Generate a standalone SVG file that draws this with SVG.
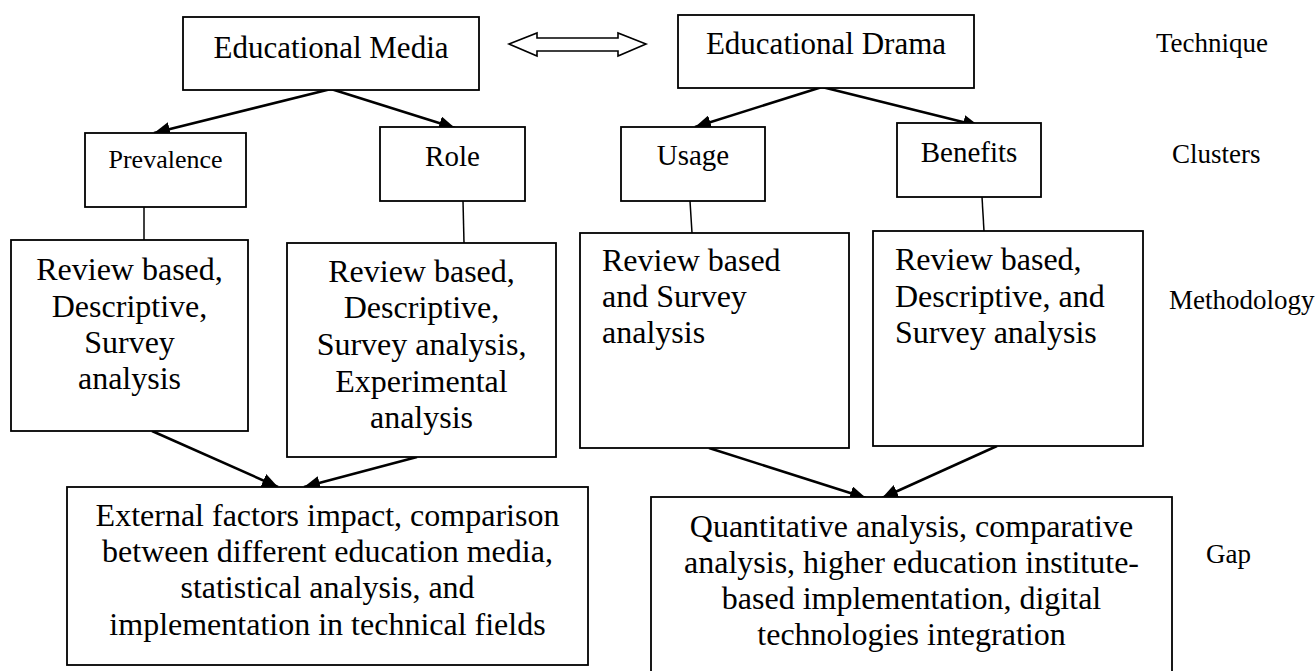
<svg xmlns="http://www.w3.org/2000/svg" width="1315" height="671" viewBox="0 0 1315 671">
<style>
.box{fill:#fff;stroke:#000;stroke-width:1.8}
.t{font-family:"Liberation Serif","Times New Roman",serif;fill:#000}
.c{text-anchor:middle}
.m{font-size:32px}
.h{font-size:31px}
.k{font-size:29px}
.lab{font-size:27px}
.con{stroke:#000;stroke-width:2.5;fill:none}
.thin{stroke:#000;stroke-width:1.5;fill:none}
</style>
<defs>
<marker id="ah" markerUnits="userSpaceOnUse" markerWidth="18" markerHeight="14" refX="16" refY="7" orient="auto">
<path d="M0,0 L16,7 L0,14 Z" fill="#000"/>
</marker>
</defs>
<rect width="1315" height="671" fill="#fff"/>
<g id="connectors">
<line class="con" x1="331" y1="89" x2="154" y2="133" marker-end="url(#ah)"/>
<line class="con" x1="331" y1="89" x2="455" y2="128" marker-end="url(#ah)"/>
<line class="con" x1="822" y1="87" x2="695" y2="127" marker-end="url(#ah)"/>
<line class="con" x1="822" y1="87" x2="979" y2="126" marker-end="url(#ah)"/>
<line class="thin" x1="144" y1="207" x2="144" y2="240"/>
<line class="thin" x1="463" y1="201" x2="464" y2="243"/>
<line class="thin" x1="690" y1="201" x2="692" y2="233"/>
<line class="thin" x1="982" y1="197" x2="984" y2="231"/>
<line class="con" x1="152" y1="431" x2="278" y2="487" marker-end="url(#ah)"/>
<line class="con" x1="417" y1="457" x2="304" y2="487" marker-end="url(#ah)"/>
<line class="con" x1="709" y1="448" x2="866" y2="498" marker-end="url(#ah)"/>
<line class="con" x1="997" y1="446" x2="882" y2="498" marker-end="url(#ah)"/>
<path d="M509,44 L537,33 L537,38 L618,38 L618,33 L646,44 L618,56 L618,51 L537,51 L537,56 Z" fill="#fff" stroke="#000" stroke-width="1.6" stroke-linejoin="miter"/>
</g>
<g id="media">
<rect class="box" x="183" y="17" width="296" height="73"/>
<text class="t c h" x="331" y="58">Educational Media</text>
</g>
<g id="drama">
<rect class="box" x="678" y="15" width="296" height="73"/>
<text class="t c h" x="826" y="54">Educational Drama</text>
</g>
<g id="prevalence">
<rect class="box" x="85" y="133" width="161" height="74"/>
<text class="t c" style="font-size:26px" x="165.5" y="168">Prevalence</text>
</g>
<g id="role">
<rect class="box" x="380" y="127" width="145" height="74"/>
<text class="t c k" x="452.5" y="166">Role</text>
</g>
<g id="usage">
<rect class="box" x="621" y="127" width="144" height="74"/>
<text class="t c k" x="693" y="165">Usage</text>
</g>
<g id="benefits">
<rect class="box" x="897" y="123" width="144" height="74"/>
<text class="t c k" x="969" y="162">Benefits</text>
</g>
<g id="meth1">
<rect class="box" x="11" y="240" width="237" height="191"/>
<text class="t c m" x="129.5"><tspan x="129.5" y="280">Review based,</tspan><tspan x="129.5" y="317">Descriptive,</tspan><tspan x="129.5" y="353">Survey</tspan><tspan x="129.5" y="389">analysis</tspan></text>
</g>
<g id="meth2">
<rect class="box" x="287" y="243" width="269" height="214"/>
<text class="t c m" x="421.5"><tspan x="421.5" y="282">Review based,</tspan><tspan x="421.5" y="318">Descriptive,</tspan><tspan x="421.5" y="355">Survey analysis,</tspan><tspan x="421.5" y="392">Experimental</tspan><tspan x="421.5" y="428">analysis</tspan></text>
</g>
<g id="meth3">
<rect class="box" x="580" y="233" width="269" height="215"/>
<text class="t m" x="602"><tspan x="602" y="271">Review based</tspan><tspan x="602" y="307">and Survey</tspan><tspan x="602" y="343">analysis</tspan></text>
</g>
<g id="meth4">
<rect class="box" x="873" y="231" width="270" height="215"/>
<text class="t m" x="895"><tspan x="895" y="270">Review based,</tspan><tspan x="895" y="307">Descriptive, and</tspan><tspan x="895" y="343">Survey analysis</tspan></text>
</g>
<g id="gap1">
<rect class="box" x="67" y="487" width="521" height="178"/>
<text class="t c m" x="327.5"><tspan x="327.5" y="526">External factors impact, comparison</tspan><tspan x="327.5" y="562">between different education media,</tspan><tspan x="327.5" y="598">statistical analysis, and</tspan><tspan x="327.5" y="635">implementation in technical fields</tspan></text>
</g>
<g id="gap2">
<rect class="box" x="651" y="497" width="521" height="190"/>
<text class="t c m" x="911.5"><tspan x="911.5" y="537">Quantitative analysis, comparative</tspan><tspan x="911.5" y="573">analysis, higher education institute-</tspan><tspan x="911.5" y="609">based implementation, digital</tspan><tspan x="911.5" y="645">technologies integration</tspan></text>
</g>
<g id="labels">
<text class="t lab" x="1156" y="52">Technique</text>
<text class="t lab" x="1172" y="163">Clusters</text>
<text class="t lab" x="1169" y="309">Methodology</text>
<text class="t lab" x="1206" y="563">Gap</text>
</g>
</svg>
